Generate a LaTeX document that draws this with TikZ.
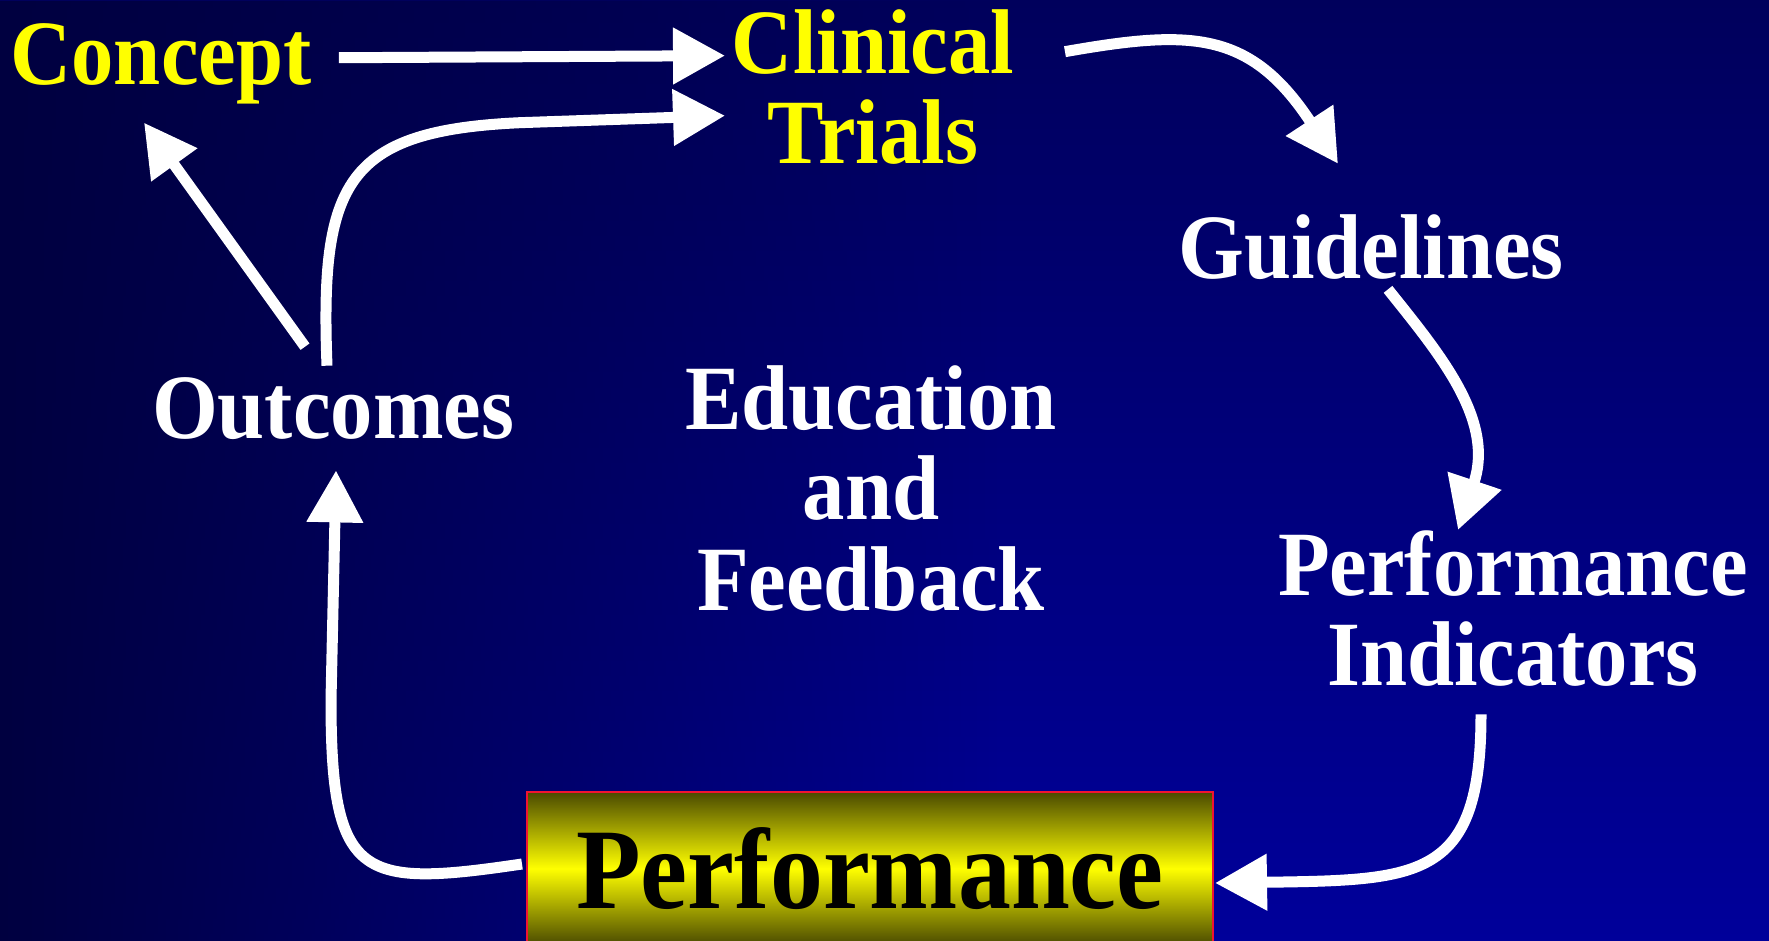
\documentclass[tikz,border=0pt]{standalone}
\usepackage{fontspec}
\newfontfamily\slidefont{Liberation Serif}[FakeStretch=0.92]
\usetikzlibrary{arrows.meta,calc,fadings}

\definecolor{bgtop}{HTML}{00005C}
\definecolor{bgbottom}{HTML}{00009A}
\definecolor{bgleft}{HTML}{000040}
\definecolor{slideyellow}{HTML}{FFFF00}
\definecolor{boxdark}{HTML}{4A4A00}
\definecolor{boxedge}{HTML}{F01432}

% opaque on the left, clear on the right
\tikzfading[name=darkenleft, left color=transparent!0, right color=transparent!100]

\begin{document}
\begin{tikzpicture}[x=1pt,y=-1pt,
  lbl/.style={inner sep=0pt, outer sep=0pt, align=center,
    font=\slidefont\bfseries\fontsize{92}{90.5}\selectfont},
  yellowlbl/.style={lbl, text=slideyellow},
  whitelbl/.style={lbl, text=white},
  perfbox/.style={inner sep=0pt, outer sep=0pt, minimum width=686pt,
    minimum height=153pt, draw=boxedge, line width=2.5pt,
    top color=boxdark, bottom color=boxdark, middle color=slideyellow,
    text=black, font=\slidefont\bfseries\fontsize{115}{115}\selectfont},
  conn/.style={draw=white, line width=11pt,
    -{Triangle[length=52pt,width=54pt]}}
]
% canvas and background glow
\useasboundingbox (0,0) rectangle (1769,941);
\clip (0,0) rectangle (1769,941);
\shade[top color=bgtop, bottom color=bgbottom] (0,0) rectangle (1769,941);
\fill[bgleft, path fading=darkenleft] (0,0) rectangle (1000,941);

% labels
\node[yellowlbl, anchor=base]  (concept)  at (161,85)     {Concept};
\node[yellowlbl, anchor=north] (trials)   at (873,9.4)    {Clinical\\Trials};
\node[whitelbl,  anchor=base]  (guide)    at (1371,279)   {Guidelines};
\node[whitelbl,  anchor=base]  (outcomes) at (333,438)    {Outcomes};
\node[whitelbl,  anchor=north] (edu)      at (871,365.4)  {Education\\and\\Feedback};
\node[whitelbl,  anchor=north] (indic)    at (1513,530.4) {Performance\\Indicators};
\node[perfbox] (perf) at (870,868.5) {Performance};

% cycle connectors
\draw[conn] ($(concept.east)+(27.5,-6.6)$) -- ($(trials.west)+(-6.9,-31.35)$);
\draw[conn] ($(outcomes.north)+(-6,-11.4)$)
  .. controls +(-7,-183) and +(-175,8) .. ++(193,-243)
  -- ($(trials.west)+(-6.9,28.65)$);
\draw[conn] ($(outcomes.north)+(-28,-30.4)$) -- ($(concept.south)+(-17,18.1)$);
\draw[conn] ($(trials.east)+(50.9,-35.35)$)
  .. controls +(125,-22) and +(-88,-134) .. ($(guide.north)+(-33,-51.4)$);
\draw[conn] ($(guide.south)+(17,9.25)$)
  .. controls +(52,65) and +(37,-110) .. ($(indic.north)+(-55,-0.4)$);
\draw[conn] ($(indic.south)+(-32,27.7)$)
  .. controls +(0,166) and +(205,-3) .. ($(perf.east)+(2,14.5)$);
\draw[conn] ($(perf.west)+(-5,-4.5)$)
  .. controls +(-162,24) and +(0,180) .. ++(-191,-164)
  -- ($(outcomes.south)+(3,31.25)$);
\end{tikzpicture}
\end{document}
